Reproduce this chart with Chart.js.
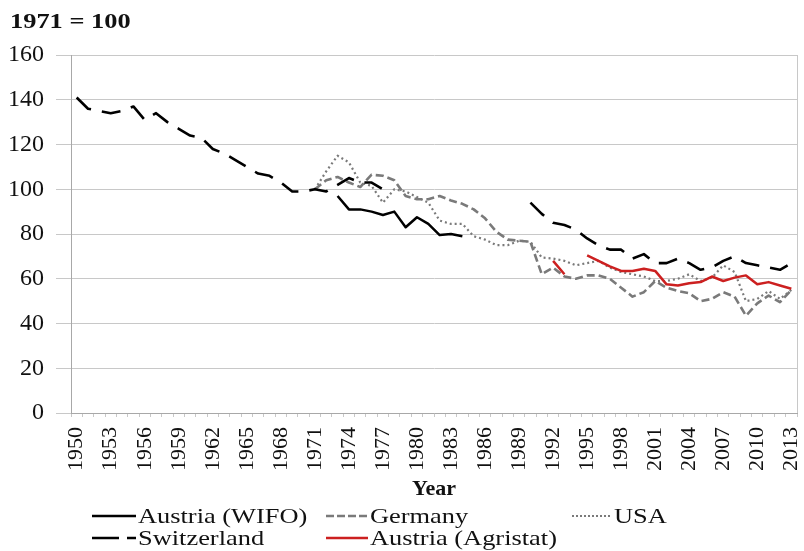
<!DOCTYPE html>
<html>
<head>
<meta charset="utf-8">
<script src="https://cdn.jsdelivr.net/npm/chart.js@4.4.1/dist/chart.umd.min.js"></script>
<style>
  body { margin:0; background:#fff; font-family:"Liberation Serif","Times New Roman",serif; }
  #wrap { position:relative; width:804px; height:551px; }
  #title { position:absolute; left:10px; top:8px; font-weight:bold; font-size:22px; color:#111; transform:scaleX(1.2); transform-origin:left center; }
  .leg { position:absolute; display:flex; align-items:center; height:24px; color:#111; white-space:nowrap; }
  .leg span { display:inline-block; font-size:22px; transform:scaleX(1.2); transform-origin:left center; margin-left:2px; }
</style>
</head>
<body>
<div id="wrap">
  <canvas id="chart" width="804" height="551"></canvas>
  <div id="title">1971 = 100</div>
  <div id="legend"></div>
</div>
<script>
// =======================
// Data (index 1971 = 100)
// =======================
const years = [
  "1950","1951","1952","1953","1954","1955","1956","1957","1958","1959",
  "1960","1961","1962","1963","1964","1965","1966","1967","1968","1969",
  "1970","1971","1972","1973","1974","1975","1976","1977","1978","1979",
  "1980","1981","1982","1983","1984","1985","1986","1987","1988","1989",
  "1990","1991","1992","1993","1994","1995","1996","1997","1998","1999",
  "2000","2001","2002","2003","2004","2005","2006","2007","2008","2009",
  "2010","2011","2012","2013"
];
const yTicks = [0,20,40,60,80,100,120,140,160];

const austriaWifo = [
  null,null,null,null,null,null,null,null,null,null,
  null,null,null,null,null,null,null,null,null,null,
  null,null,null,97,91,91,90,88.5,90,83,
  87.5,84.5,79.5,80,79,null,null,null,null,null,
  null,null,null,null,null,null,null,null,null,null,
  null,null,null,null,null,null,null,null,null,null,
  null,null,null,null
];
const germany = [
  null,null,null,null,null,null,null,null,null,null,
  null,null,null,null,null,null,null,null,null,null,
  null,100,104,105.5,103,101,106.5,106,104,97,
  95.5,95.5,97,95,93.5,91,87,81,77.5,77,
  76.5,62,65,61,60,61.5,61.5,60,56,52,
  54,59,56,54.5,53.5,50,51,54,52,43.5,
  49,52.5,49.5,55
];
const usa = [
  null,null,null,null,null,null,null,null,null,null,
  null,null,null,null,null,null,null,null,null,null,
  null,100,108,115,112,103,101.5,94,100,99,
  96.5,94,86,84.5,84.5,79,77.5,75,75,77,
  76.5,69.5,69,68,66,67,68,65,63,62,
  61,59,59,60,62,59,60.5,66,63,50,
  51,54.5,51,55
];
const switzerland = [
  141,136,135,134,135,137,131,134,130,127,
  124,123,118,116,113,110,107,106,103,99,
  99,100,99,102,105,103,103,100,null,null,
  null,null,null,null,null,null,null,null,null,null,
  94,89,85,84,82,78,75,73,73,69,
  71,67,67,69,67,64,65,68,70,67,
  66,65,64,67
];
const austriaAgristat = [
  null,null,null,null,null,null,null,null,null,null,
  null,null,null,null,null,null,null,null,null,null,
  null,null,null,null,null,null,null,null,null,null,
  null,null,null,null,null,null,null,null,null,null,
  null,null,68,62,null,70.5,68,65.5,63.5,63.5,
  64.5,63.5,57.5,57,58,58.5,61,59,60.5,61.5,
  57.5,58.5,57,55.5
];

// =======================
// Styles
// =======================
const FONT = '"Liberation Serif","Times New Roman",serif';
const GRID = '#c8c8c8';
const series = [
  { label:'Austria (WIFO)',     data:austriaWifo,     color:'#000000', dash:[],     legDash:[],     width:2.5, order:1 },
  { label:'Germany',            data:germany,         color:'#7a7a7a', dash:[8,4],  legDash:[8,3],  width:2.6, order:3 },
  { label:'USA',                data:usa,             color:'#7a7a7a', dash:[2,3],  legDash:[2,2],  width:2.2, order:4 },
  { label:'Switzerland',        data:switzerland,     color:'#000000', dash:[19,11],legDash:[27,8], width:2.6, order:2 },
  { label:'Austria (Agristat)', data:austriaAgristat, color:'#cc2020', dash:[],     legDash:[],     width:2.5, order:0 }
];
// [sample left, row top, sample length]
const legendPos = [[92,504,44],[326,504,42],[572,504,40],[92,526,44],[326,526,42]];

// right edge of the plot area
const plotFrame = {
  id:'plotFrame',
  beforeDatasetsDraw(chart){
    const {ctx, chartArea:a} = chart;
    ctx.save();
    ctx.strokeStyle = GRID; ctx.lineWidth = 1;
    ctx.beginPath(); ctx.moveTo(a.right+0.5, a.top); ctx.lineTo(a.right+0.5, a.bottom); ctx.stroke();
    ctx.restore();
  }
};

new Chart(document.getElementById('chart').getContext('2d'), {
  type:'line',
  data:{
    labels:years,
    datasets:series.map(s=>({
      label:s.label, data:s.data, borderColor:s.color, backgroundColor:s.color,
      borderDash:s.dash, borderWidth:s.width, pointRadius:0, tension:0,
      spanGaps:false, order:s.order, borderCapStyle:'butt', borderJoinStyle:'round'
    }))
  },
  options:{
    responsive:false, animation:false,
    layout:{ padding:{ top:55, right:7, bottom:48, left:0 } },
    plugins:{ legend:{display:false}, tooltip:{enabled:false}, title:{display:false} },
    scales:{
      x:{
        offset:true,
        grid:{ display:true, drawOnChartArea:false, offset:true, tickLength:4, color:GRID },
        border:{ display:true, color:'#a8a8a8' },
        ticks:{
          autoSkip:false, minRotation:90, maxRotation:90, padding:10,
          color:'#111', font:{ family:FONT, size:22 },
          callback:(v,i)=> i%3===0 ? years[i] : ''
        },
        title:{ display:true, text:'Year', color:'#111', font:{ family:FONT, size:22, weight:'bold' }, padding:{top:0,bottom:0} },
        afterFit:s=>{ s.height = 90; s.paddingLeft = 0; s.paddingRight = 0; }
      },
      y:{
        min:0, max:160,
        afterBuildTicks:s=>{ s.ticks = yTicks.map(v=>({value:v})); },
        grid:{ color:GRID, tickLength:15, lineWidth:1 },
        border:{ display:true, color:'#a8a8a8' },
        ticks:{ padding:12, color:'#111', font:{ family:FONT, size:24 } },
        afterFit:s=>{ s.width = 71; s.paddingTop = 0; s.paddingBottom = 0; }
      }
    }
  },
  plugins:[plotFrame]
});

// =======================
// Legend (two rows, Excel-like columns)
// =======================
const legend = document.getElementById('legend');
series.forEach((s,i)=>{
  const [x,y,len] = legendPos[i];
  const item = document.createElement('div');
  item.className = 'leg';
  item.style.left = x+'px'; item.style.top = y+'px';
  item.innerHTML = `<svg width="${len}" height="10"><line x1="0" y1="5" x2="${len}" y2="5" stroke="${s.color}" stroke-width="${s.width}" stroke-dasharray="${s.legDash.join(',')}"/></svg><span>${s.label}</span>`;
  legend.appendChild(item);
});
</script>
</body>
</html>
